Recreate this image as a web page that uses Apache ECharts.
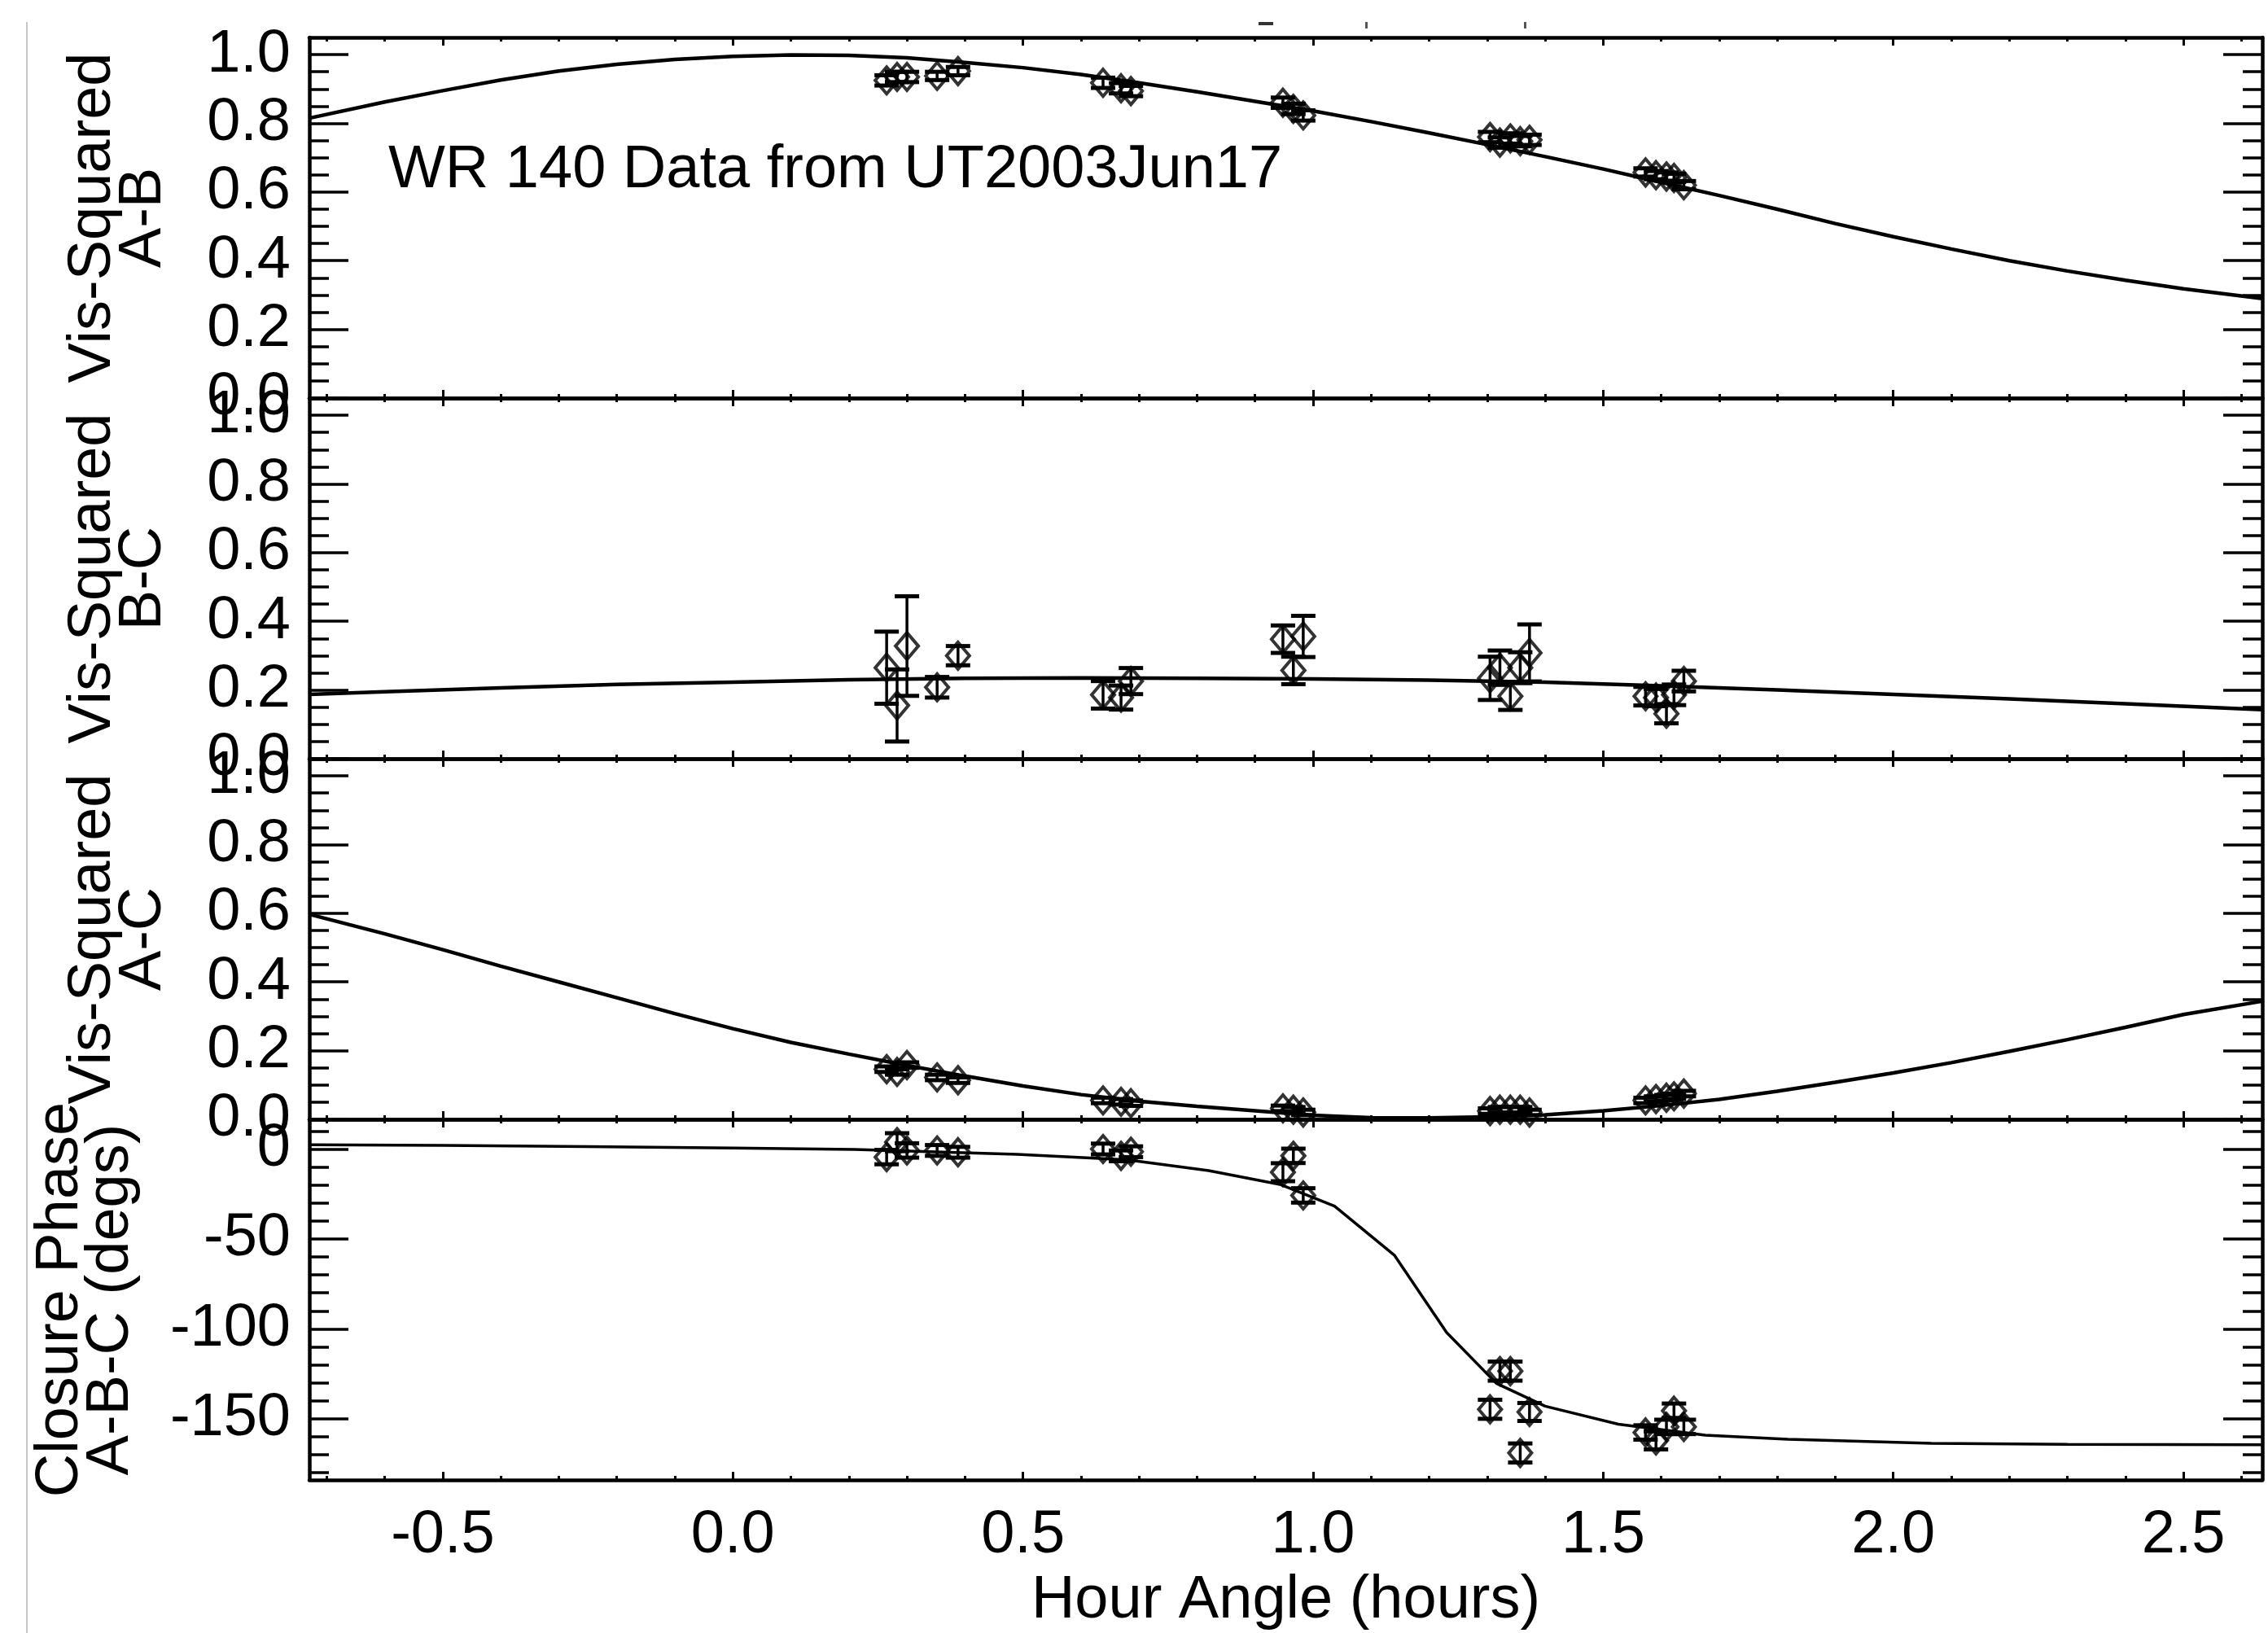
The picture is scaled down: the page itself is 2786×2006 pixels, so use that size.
<!DOCTYPE html>
<html><head><meta charset="utf-8">
<script src="https://cdn.jsdelivr.net/npm/echarts@6/dist/echarts.min.js"></script>
<style>html,body{margin:0;padding:0;background:#fff}#c{width:2786px;height:2006px}</style>
</head><body><div id="c"></div>
<script>
// ---------- data ----------
const hourAngle = [0.265,0.283,0.300,0.352,0.388,0.638,0.669,0.686,0.948,0.966,0.983,1.305,1.322,1.340,1.357,1.373,1.573,1.591,1.609,1.622,1.639];

const v2AB    = [0.925,0.935,0.935,0.938,0.952,0.918,0.902,0.894,0.860,0.842,0.823,0.760,0.744,0.756,0.748,0.752,0.657,0.649,0.645,0.641,0.620];
const v2ABErr = [0.015,0.015,0.015,0.012,0.012,0.015,0.015,0.015,0.015,0.015,0.015,0.015,0.015,0.015,0.015,0.015,0.012,0.012,0.012,0.012,0.012];

const v2BC    = [0.265,0.155,0.328,0.208,0.300,0.186,0.178,0.226,0.348,0.257,0.356,0.234,0.265,0.182,0.265,0.308,0.182,0.178,0.131,0.186,0.226];
const v2BCErr = [0.105,0.105,0.145,0.030,0.028,0.040,0.035,0.038,0.040,0.040,0.060,0.063,0.050,0.040,0.045,0.083,0.027,0.025,0.028,0.030,0.030];

const v2AC    = [0.146,0.138,0.158,0.122,0.114,0.055,0.051,0.047,0.032,0.028,0.020,0.024,0.028,0.028,0.028,0.020,0.055,0.059,0.063,0.067,0.075];
const v2ACErr = [0.008,0.008,0.008,0.008,0.008,0.008,0.008,0.008,0.008,0.008,0.008,0.008,0.008,0.008,0.008,0.008,0.008,0.008,0.008,0.008,0.008];

const cpABC    = [-4.5,3.8,-0.8,-0.8,-1.8,0.0,-3.8,-1.5,-12.9,-3.8,-25.8,-144.7,-123.5,-123.5,-169.0,-146.2,-157.6,-162.0,-154.5,-145.5,-154.5];
const cpABCErr = [4,5,4,3,3,3,3,3,5,4,4,5.3,5.3,5.3,5.3,5,4,5,4,4,4];

// model curves
const modelX = [-0.73,-0.6,-0.5,-0.4,-0.3,-0.2,-0.1,0.0,0.1,0.2,0.3,0.4,0.5,0.6,0.7,0.8,0.9,1.0,1.1,1.2,1.3,1.4,1.5,1.6,1.7,1.8,1.9,2.0,2.1,2.2,2.3,2.4,2.5,2.636];
const modelAB = [0.815,0.862,0.895,0.926,0.952,0.972,0.986,0.995,0.999,0.998,0.991,0.977,0.962,0.942,0.918,0.892,0.864,0.836,0.805,0.772,0.738,0.703,0.667,0.628,0.590,0.550,0.508,0.470,0.434,0.400,0.370,0.343,0.318,0.290];
const modelAC = [0.597,0.540,0.494,0.446,0.400,0.354,0.308,0.264,0.224,0.190,0.157,0.126,0.097,0.072,0.053,0.038,0.025,0.012,0.005,0.004,0.007,0.013,0.025,0.040,0.058,0.082,0.108,0.135,0.165,0.198,0.232,0.268,0.305,0.344];
const modelBCX = [-0.73,-0.6,-0.4,-0.2,0.0,0.2,0.4,0.6,0.8,1.0,1.2,1.4,1.6,1.8,2.0,2.2,2.4,2.636];
const modelBC  = [0.187,0.195,0.206,0.216,0.223,0.230,0.234,0.235,0.234,0.232,0.229,0.223,0.212,0.200,0.187,0.174,0.160,0.143];
const modelCPX = [-0.73,-0.5,-0.25,0.0,0.21,0.49,0.68,0.82,0.943,1.037,1.14,1.23,1.316,1.40,1.526,1.676,1.818,2.066,2.3,2.636];
const modelCP  = [2.3,2.0,1.3,0.5,-0.3,-3,-6,-12,-19.7,-31.8,-59,-102,-130.3,-143,-153,-159.1,-161.4,-163.6,-164.2,-164.4];

// ticks & labels
const xMajorTicks = [-0.5,0.0,0.5,1.0,1.5,2.0,2.5];
const visMajorTicks = [0.0,0.2,0.4,0.6,0.8,1.0];
const phaseMajorTicks = [-150,-100,-50,0];
const panelTitles = ['Vis-Squared\nA-B','Vis-Squared\nB-C','Vis-Squared\nA-C','Closure Phase\nA-B-C (degs)'];
const xTitle = 'Hour Angle (hours)';
const note = 'WR 140 Data from UT2003Jun17';

// ---------- layout ----------
const XMIN = -0.73, XMAX = 2.636;
const FONT = 'Liberation Sans';
const FS = 74;
const gridTops = [46, 489, 932, 1375];
const GH = 443, GL = 380, GW = 2399;

const xMinor = []; for (let k = -7; k <= 26; k++) if (k % 5 !== 0) xMinor.push(k / 10);
const visMinor = []; for (let k = 1; k <= 20; k++) if (k % 4 !== 0) visMinor.push(k * 0.05);
const phaseMinor = []; for (let k = -18; k <= 1; k++) if (k % 5 !== 0) phaseMinor.push(k * 10);

const yRanges = [[0,1.05],[0,1.05],[0,1.05],[-184,16.5]];

const grid = gridTops.map(t => ({left: GL, top: t, width: GW, height: GH, containLabel: false}));

const xAxis = [], yAxis = [];
function mkX(g, pos, vals, len, line, label) {
  xAxis.push({
    type: 'value', gridIndex: g, position: pos, min: XMIN, max: XMAX,
    axisLine: {show: line, onZero: false, lineStyle: {color: '#000', width: 4.5}},
    axisTick: {show: true, inside: true, length: len, customValues: vals, lineStyle: {color: '#000', width: 3}},
    axisLabel: {show: label, customValues: vals, margin: 32, color: '#000', fontSize: FS, fontFamily: FONT,
      formatter: v => v.toFixed(1)},
    splitLine: {show: false},
    name: label ? xTitle : '', nameLocation: 'middle', nameGap: 112,
    nameTextStyle: {color: '#000', fontSize: FS, fontFamily: FONT}
  });
}
function mkY(g, pos, vals, len, line, label, fmt, name, gap) {
  yAxis.push({
    type: 'value', gridIndex: g, position: pos, min: yRanges[g][0], max: yRanges[g][1],
    axisLine: {show: line, onZero: false, lineStyle: {color: '#000', width: 4.5}},
    axisTick: {show: true, inside: true, length: len, customValues: vals, lineStyle: {color: '#000', width: 3.5}},
    axisLabel: {show: label, customValues: vals, margin: 23, color: '#000', fontSize: FS, fontFamily: FONT, formatter: fmt},
    splitLine: {show: false},
    name: name || '', nameLocation: 'middle', nameRotate: 90, nameGap: gap || 0,
    nameTextStyle: {color: '#000', fontSize: FS, fontFamily: FONT, lineHeight: 62}
  });
}
const xIdx = [], yIdx = [];
for (let g = 0; g < 4; g++) {
  xIdx.push(xAxis.length);
  mkX(g, 'bottom', xMajorTicks, 10, true, g === 3);
  mkX(g, 'bottom', xMinor, 5, false, false);
  mkX(g, 'top', xMajorTicks, 10, true, false);
  mkX(g, 'top', xMinor, 5, false, false);
  const isPhase = g === 3;
  const maj = isPhase ? phaseMajorTicks : visMajorTicks;
  const mnr = isPhase ? phaseMinor : visMinor;
  const fmt = isPhase ? (v => String(Math.round(v))) : (v => v.toFixed(1));
  yIdx.push(yAxis.length);
  mkY(g, 'left', maj, 48, true, true, fmt, panelTitles[g], isPhase ? 212 : 172);
  mkY(g, 'left', mnr, 24, false, false, fmt);
  mkY(g, 'right', maj, 48, true, false, fmt);
  mkY(g, 'right', mnr, 24, false, false, fmt);
}

function errRender(params, api) {
  const x = api.value(0), y = api.value(1), e = api.value(2);
  const a = api.coord([x, y + e]), b = api.coord([x, y - e]);
  const hw = 15;
  const st = {stroke: '#000', lineWidth: 3.5};
  const cs = {stroke: '#000', lineWidth: 5};
  return {type: 'group', children: [
    {type: 'line', shape: {x1: a[0], y1: a[1], x2: b[0], y2: b[1]}, style: st},
    {type: 'line', shape: {x1: a[0] - hw, y1: a[1], x2: a[0] + hw, y2: a[1]}, style: cs},
    {type: 'line', shape: {x1: b[0] - hw, y1: b[1], x2: b[0] + hw, y2: b[1]}, style: cs}
  ]};
}

const obs = [[v2AB, v2ABErr], [v2BC, v2BCErr], [v2AC, v2ACErr], [cpABC, cpABCErr]];
const models = [[modelX, modelAB], [modelBCX, modelBC], [modelX, modelAC], [modelCPX, modelCP]];
const series = [];
for (let g = 0; g < 4; g++) {
  const [mx, my] = models[g];
  series.push({type: 'line', xAxisIndex: xIdx[g], yAxisIndex: yIdx[g], data: mx.map((x, i) => [x, my[i]]),
    showSymbol: false, symbol: 'none', lineStyle: {color: '#000', width: g === 3 ? 3.5 : 4.5}, z: 2, clip: true, animation: false});
  const [vals, errs] = obs[g];
  series.push({type: 'custom', xAxisIndex: xIdx[g], yAxisIndex: yIdx[g], renderItem: errRender,
    data: hourAngle.map((x, i) => [x, vals[i], errs[i]]), encode: {x: 0, y: 1}, z: 3, clip: true, animation: false});
  series.push({type: 'scatter', xAxisIndex: xIdx[g], yAxisIndex: yIdx[g], data: hourAngle.map((x, i) => [x, vals[i]]),
    symbol: 'diamond', symbolSize: [28, 33],
    itemStyle: {color: 'rgba(0,0,0,0)', borderColor: '#000', borderWidth: 4}, z: 4, animation: false});
}

const chart = echarts.init(document.getElementById('c'), null, {renderer: 'canvas'});
chart.setOption({
  backgroundColor: '#fff',
  animation: false,
  grid, xAxis, yAxis, series,
  graphic: [
    {type: 'line', shape: {x1: 33, y1: 27, x2: 33, y2: 2006}, style: {stroke: '#c8c8c8', lineWidth: 2}},
    {type: 'rect', shape: {x: 1546, y: 27, width: 18, height: 4}, style: {fill: '#333'}},
    {type: 'rect', shape: {x: 1677, y: 27, width: 3, height: 8}, style: {fill: '#555'}},
    {type: 'rect', shape: {x: 1872, y: 27, width: 3, height: 8}, style: {fill: '#555'}},
    {type: 'text', style: {text: note, x: 477, y: 210, fill: '#000', fontSize: FS, fontFamily: FONT, verticalAlign: 'middle'}, z: 10}
  ]
});
</script></body></html>
